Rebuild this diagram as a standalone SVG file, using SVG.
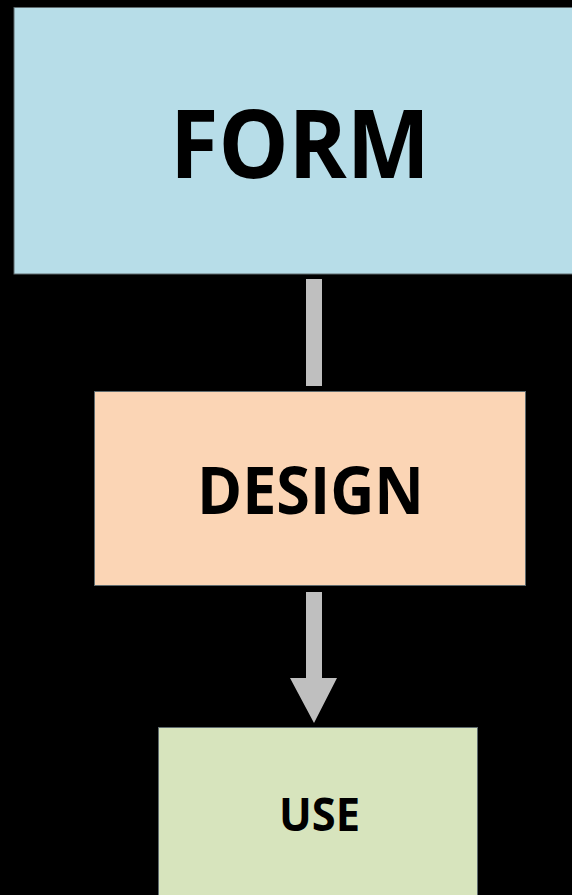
<svg xmlns="http://www.w3.org/2000/svg" width="572" height="895" viewBox="0 0 572 895">
<style>
.box{stroke:#5f6b6e;stroke-width:1}
.lbl{font-family:"Open Sans","Liberation Sans",sans-serif;font-weight:bold;fill:#000}
.conn{fill:#bfbfbf}
</style>
<rect x="0" y="0" width="572" height="895" fill="#000"/>
<g id="form">
<rect class="box" x="14" y="7.5" width="570" height="266.5" fill="#b7dde8"/>
<text class="lbl" x="170" y="177.5" font-size="95" textLength="260" lengthAdjust="spacingAndGlyphs">FORM</text>
</g>
<g id="design">
<rect class="box" x="94.5" y="391.5" width="431" height="194" fill="#fbd5b5"/>
<text class="lbl" x="197" y="514" font-size="67" textLength="227" lengthAdjust="spacingAndGlyphs">DESIGN</text>
</g>
<g id="use">
<rect class="box" x="158.5" y="727.5" width="319" height="180" fill="#d7e4bd"/>
<text class="lbl" x="279" y="831" font-size="46" textLength="81" lengthAdjust="spacingAndGlyphs">USE</text>
</g>
<g id="connectors">
<rect class="conn" x="306" y="279" width="16" height="107"/>
<path class="conn" d="M306 592 H322 V678 H337 L314 723 L290 678 H306 Z"/>
</g>
</svg>
